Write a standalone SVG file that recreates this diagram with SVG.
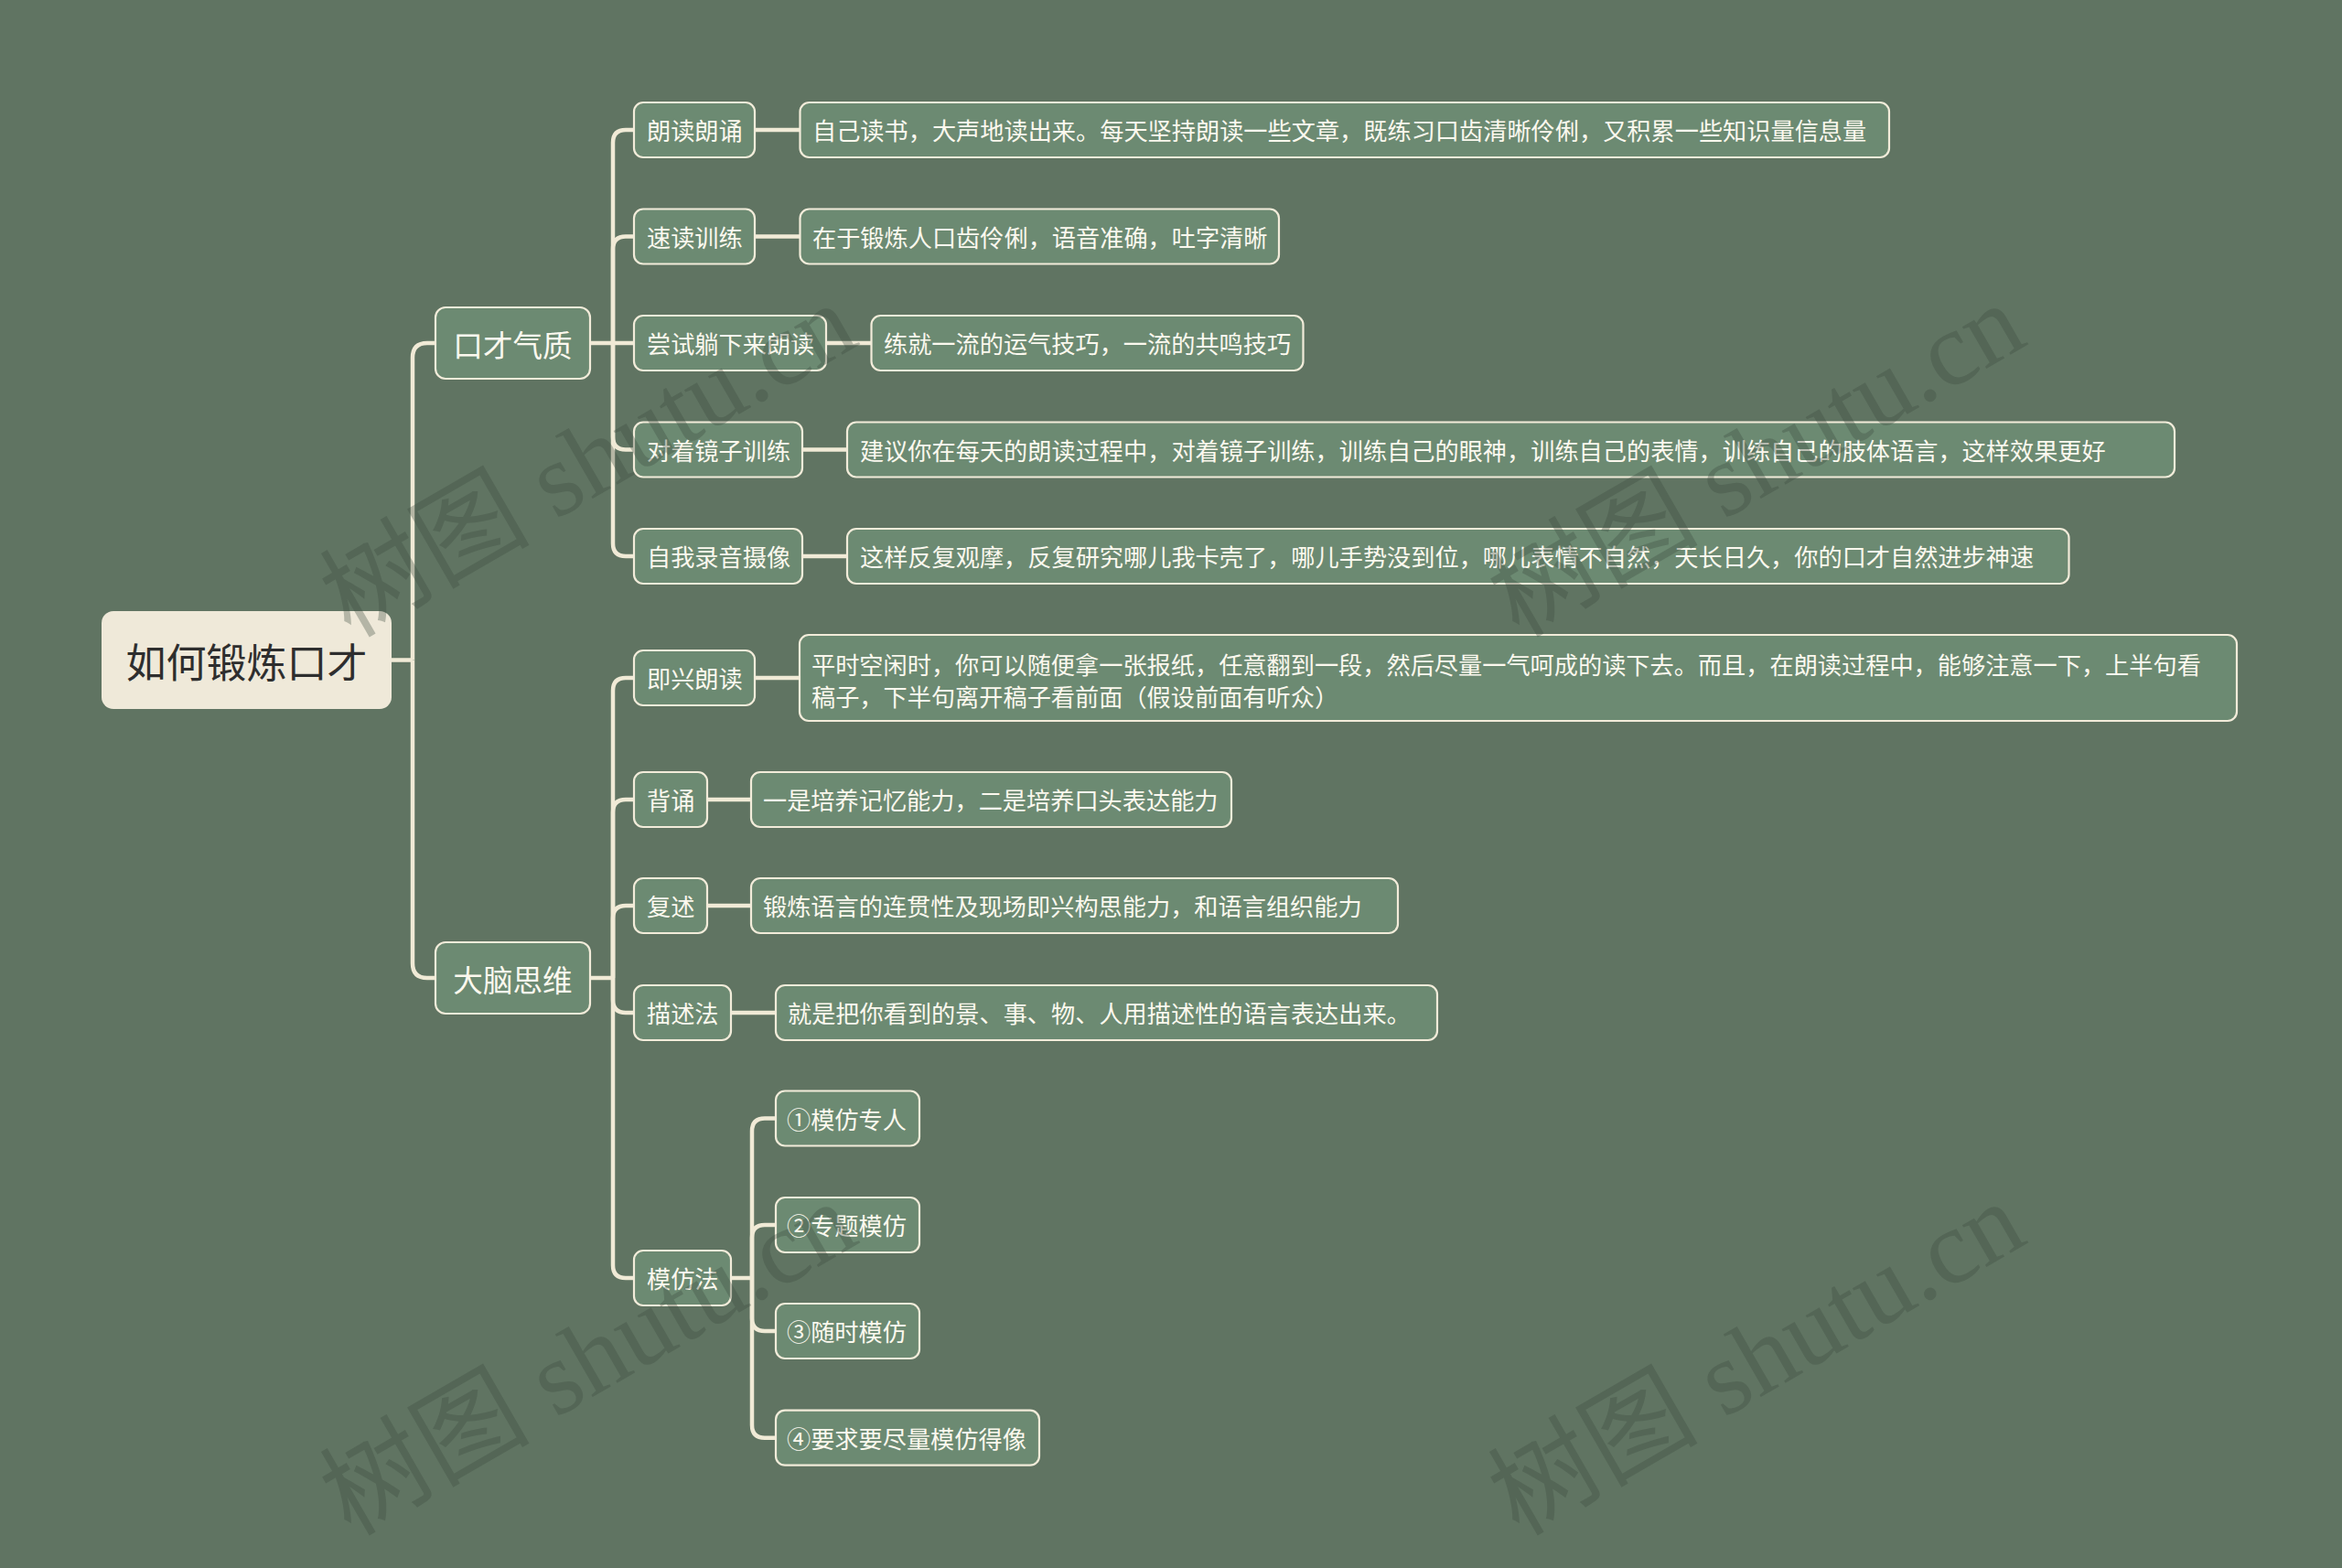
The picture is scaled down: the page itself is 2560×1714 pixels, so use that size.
<svg xmlns="http://www.w3.org/2000/svg" width="2560" height="1714" viewBox="0 0 2560 1714">
<style>
.bg{fill:#607462}
.box{fill:#6c8a72;stroke:#f2ecda;stroke-width:2.2}
.root{fill:#efe9d9}
.t{font-family:"Noto Sans CJK SC","Noto Sans",sans-serif;fill:#fbf8ee;font-size:26.2px;dominant-baseline:central}
.t1{font-family:"Noto Sans CJK SC","Noto Sans",sans-serif;fill:#fbf8ee;font-size:32.6px;dominant-baseline:central;text-anchor:middle}
.t0{font-family:"Noto Sans CJK SC","Noto Sans",sans-serif;fill:#2e2e2e;font-size:44px;dominant-baseline:central;text-anchor:middle}
.ln{fill:none;stroke:#f0ead6;stroke-width:4.5;stroke-linecap:butt}
.wm{font-family:"Liberation Serif","Noto Sans CJK SC",serif;font-size:115px;fill:#3b4a3e;opacity:0.32}
</style>
<rect class="bg" x="0" y="0" width="2560" height="1714"/>
<g id="connectors">
<path class="ln" d="M428,721.5 H451"/>
<path class="ln" d="M451,721.5 V391 Q451,375 467,375 H476"/>
<path class="ln" d="M451,721.5 V1053 Q451,1069 467,1069 H476"/>
<path class="ln" d="M645,375 H693"/>
<path class="ln" d="M670,375 V156 Q670,142 684,142 H693"/>
<path class="ln" d="M670,375 V272.5 Q670,258.5 684,258.5 H693"/>
<path class="ln" d="M670,375 V477.5 Q670,491.5 684,491.5 H693"/>
<path class="ln" d="M670,375 V594 Q670,608 684,608 H693"/>
<path class="ln" d="M825,142 H874.5"/>
<path class="ln" d="M825,258.5 H874.5"/>
<path class="ln" d="M903,375 H952.5"/>
<path class="ln" d="M877,491.5 H926"/>
<path class="ln" d="M877,608 H926"/>
<path class="ln" d="M645,1069 H670"/>
<path class="ln" d="M670,1069 V755 Q670,741 684,741 H693"/>
<path class="ln" d="M670,1069 V888 Q670,874 684,874 H693"/>
<path class="ln" d="M670,1069 V1004 Q670,990 684,990 H693"/>
<path class="ln" d="M670,1069 V1093 Q670,1107 684,1107 H693"/>
<path class="ln" d="M670,1069 V1383 Q670,1397 684,1397 H693"/>
<path class="ln" d="M825,741 H874"/>
<path class="ln" d="M773,874 H821"/>
<path class="ln" d="M773,990 H821"/>
<path class="ln" d="M799,1107 H848"/>
<path class="ln" d="M799,1397 H822"/>
<path class="ln" d="M822,1397 V1236.5 Q822,1222.5 836,1222.5 H848"/>
<path class="ln" d="M822,1397 V1353 Q822,1339 836,1339 H848"/>
<path class="ln" d="M822,1397 V1441 Q822,1455 836,1455 H848"/>
<path class="ln" d="M822,1397 V1557.7 Q822,1571.7 836,1571.7 H848"/>
</g>
<g id="root"><rect class="root" x="111" y="668" width="317" height="107" rx="13"/><text class="t0" x="269.5" y="721.5">如何锻炼口才</text></g>
<g id="n1"><rect class="box" x="476" y="336" width="169" height="78" rx="11"/><text class="t1" x="560.5" y="375">口才气质</text></g>
<g id="n2"><rect class="box" x="476" y="1030" width="169" height="78" rx="11"/><text class="t1" x="560.5" y="1069">大脑思维</text></g>
<g id="n1a"><rect class="box" x="693" y="112" width="132" height="60" rx="10"/><text class="t" x="707" y="142">朗读朗诵</text></g>
<g id="n1a1"><rect class="box" x="874.5" y="112" width="1190.5" height="60" rx="10"/><text class="t" x="888" y="142">自己读书，大声地读出来。每天坚持朗读一些文章，既练习口齿清晰伶俐，又积累一些知识量信息量</text></g>
<g id="n1b"><rect class="box" x="693" y="228.5" width="132" height="60" rx="10"/><text class="t" x="707" y="258.5">速读训练</text></g>
<g id="n1b1"><rect class="box" x="874.5" y="228.5" width="523.5" height="60" rx="10"/><text class="t" x="888" y="258.5">在于锻炼人口齿伶俐，语音准确，吐字清晰</text></g>
<g id="n1c"><rect class="box" x="693" y="345" width="210" height="60" rx="10"/><text class="t" x="707" y="375">尝试躺下来朗读</text></g>
<g id="n1c1"><rect class="box" x="952.5" y="345" width="472" height="60" rx="10"/><text class="t" x="966" y="375">练就一流的运气技巧，一流的共鸣技巧</text></g>
<g id="n1d"><rect class="box" x="693" y="461.5" width="184" height="60" rx="10"/><text class="t" x="707" y="491.5">对着镜子训练</text></g>
<g id="n1d1"><rect class="box" x="926" y="461.5" width="1451" height="60" rx="10"/><text class="t" x="940" y="491.5">建议你在每天的朗读过程中，对着镜子训练，训练自己的眼神，训练自己的表情，训练自己的肢体语言，这样效果更好</text></g>
<g id="n1e"><rect class="box" x="693" y="578" width="184" height="60" rx="10"/><text class="t" x="707" y="608">自我录音摄像</text></g>
<g id="n1e1"><rect class="box" x="926" y="578" width="1335.5" height="60" rx="10"/><text class="t" x="940" y="608">这样反复观摩，反复研究哪儿我卡壳了，哪儿手势没到位，哪儿表情不自然，天长日久，你的口才自然进步神速</text></g>
<g id="n2a"><rect class="box" x="693" y="711" width="132" height="60" rx="10"/><text class="t" x="707" y="741">即兴朗读</text></g>
<g id="n2a1"><rect class="box" x="874" y="694" width="1571" height="94" rx="10"/><text class="t" x="887" y="725.5">平时空闲时，你可以随便拿一张报纸，任意翻到一段，然后尽量一气呵成的读下去。而且，在朗读过程中，能够注意一下，上半句看</text><text class="t" x="887" y="760.5">稿子，下半句离开稿子看前面（假设前面有听众）</text></g>
<g id="n2b"><rect class="box" x="693" y="844" width="80" height="60" rx="10"/><text class="t" x="707" y="874">背诵</text></g>
<g id="n2b1"><rect class="box" x="821" y="844" width="525" height="60" rx="10"/><text class="t" x="834" y="874">一是培养记忆能力，二是培养口头表达能力</text></g>
<g id="n2c"><rect class="box" x="693" y="960" width="80" height="60" rx="10"/><text class="t" x="707" y="990">复述</text></g>
<g id="n2c1"><rect class="box" x="821" y="960" width="707" height="60" rx="10"/><text class="t" x="834" y="990">锻炼语言的连贯性及现场即兴构思能力，和语言组织能力</text></g>
<g id="n2d"><rect class="box" x="693" y="1077" width="106" height="60" rx="10"/><text class="t" x="707" y="1107">描述法</text></g>
<g id="n2d1"><rect class="box" x="848" y="1077" width="723" height="60" rx="10"/><text class="t" x="861" y="1107">就是把你看到的景、事、物、人用描述性的语言表达出来。</text></g>
<g id="n2e"><rect class="box" x="693" y="1367" width="106" height="60" rx="10"/><text class="t" x="707" y="1397">模仿法</text></g>
<g id="n2e1"><rect class="box" x="848" y="1192.5" width="157" height="60" rx="10"/><text class="t" x="860" y="1222.5">①模仿专人</text></g>
<g id="n2e2"><rect class="box" x="848" y="1309" width="157" height="60" rx="10"/><text class="t" x="860" y="1339">②专题模仿</text></g>
<g id="n2e3"><rect class="box" x="848" y="1425" width="157" height="60" rx="10"/><text class="t" x="860" y="1455">③随时模仿</text></g>
<g id="n2e4"><rect class="box" x="848" y="1541.7" width="288" height="60" rx="10"/><text class="t" x="860" y="1571.7">④要求要尽量模仿得像</text></g>
<g id="watermarks">
<text class="wm" transform="translate(383,698) rotate(-30)">树图 shutu.cn</text>
<text class="wm" transform="translate(1660,698) rotate(-30)">树图 shutu.cn</text>
<text class="wm" transform="translate(383,1680) rotate(-30)">树图 shutu.cn</text>
<text class="wm" transform="translate(1660,1680) rotate(-30)">树图 shutu.cn</text>
</g>
</svg>
